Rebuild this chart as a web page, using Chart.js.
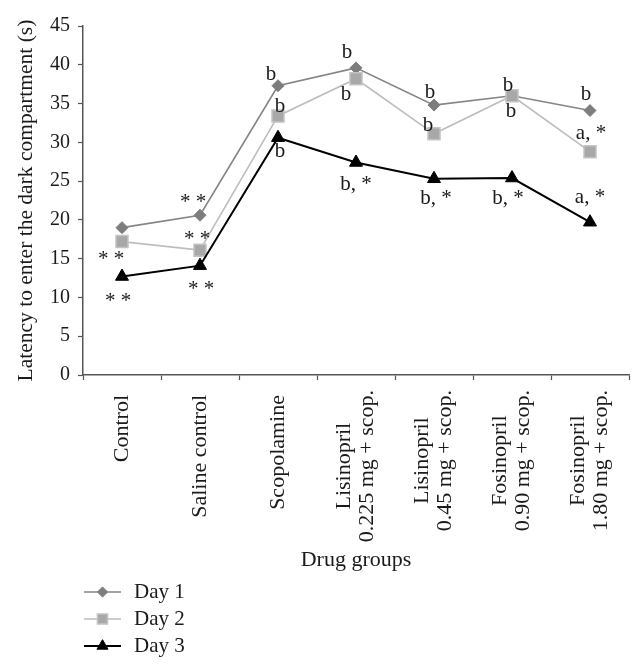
<!DOCTYPE html>
<html>
<head>
<meta charset="utf-8">
<script src="https://cdn.jsdelivr.net/npm/chart.js@4.4.1/dist/chart.umd.min.js"></script>
<style>
  html, body { margin: 0; padding: 0; background: #ffffff; }
  canvas { display: block; }
</style>
</head>
<body>
<canvas id="c" width="644" height="671"></canvas>
<script>
// ---- data ----
const categories = [
  ['Control'],
  ['Saline control'],
  ['Scopolamine'],
  ['Lisinopril', '0.225 mg + scop.'],
  ['Lisinopril', '0.45 mg + scop.'],
  ['Fosinopril', '0.90 mg + scop.'],
  ['Fosinopril', '1.80 mg + scop.']
];
const seriesNames = ['Day 1', 'Day 2', 'Day 3'];
const day1 = [19.0, 20.6, 37.3, 39.6, 34.8, 36.0, 34.1];
const day2 = [17.2, 16.1, 33.4, 38.2, 31.1, 36.0, 28.8];
const day3 = [12.7, 14.1, 30.6, 27.4, 25.3, 25.4, 19.7];
const yMin = 0, yMax = 45, yStep = 5;
const day1Marks = ['', '* *', 'b', 'b', 'b', 'b', 'b'];
const day2Marks = ['* *', '* *', 'b', 'b', 'b', 'b', 'a, *'];
const day3Marks = ['* *', '* *', 'b', 'b, *', 'b, *', 'b, *', 'a, *'];
const xTitle = 'Drug groups';
const yTitle = 'Latency to enter the dark compartment (s)';

// ---- styling ----
const FONT = "'Liberation Serif', 'Times New Roman', serif";
const TEXT = '#1a1a1a';
const AXIS = '#555555';

// annotation placement relative to each point (pixels)
const markOffsets = [
  [null, [-7, -17], [-7, -11], [-9, -15], [-4, -13], [-4, -10], [-4, -16]],
  [[-11, 14], [-3, -15], [2, -9], [-10, 16], [-6, -8], [-1, 16], [1, -18]],
  [[-4, 21], [1, 20], [2, 14], [0, 22], [2, 20], [-4, 20], [0, -25]]
];
const allMarks = [day1Marks, day2Marks, day3Marks];

const annotationPlugin = {
  id: 'sigMarks',
  afterDatasetsDraw(chart) {
    const ctx = chart.ctx;
    ctx.save();
    ctx.font = '21px ' + FONT;
    ctx.fillStyle = TEXT;
    ctx.textAlign = 'center';
    ctx.textBaseline = 'middle';
    chart.data.datasets.forEach((ds, i) => {
      const meta = chart.getDatasetMeta(i);
      allMarks[i].forEach((txt, j) => {
        if (!txt) return;
        const off = markOffsets[i][j];
        const pt = meta.data[j];
        let dy = off[1];
        if (txt === '* *') dy += 4;
        ctx.fillText(txt, pt.x + off[0], pt.y + dy);
      });
    });
    ctx.restore();
  }
};

const categoryLabelPlugin = {
  id: 'catLabels',
  afterDraw(chart) {
    const ctx = chart.ctx;
    const xs = chart.scales.x;
    const lineH = 23;
    ctx.save();
    ctx.font = '22px ' + FONT;
    ctx.fillStyle = TEXT;
    ctx.textBaseline = 'middle';
    categories.forEach((lines, j) => {
      const cx = xs.getPixelForValue(j);
      const widths = lines.map(l => ctx.measureText(l).width);
      const maxW = Math.max(...widths);
      const n = lines.length;
      const topY = chart.chartArea.bottom + (n > 1 ? 15 : 20);
      lines.forEach((line, k) => {
        const x = cx + (k - (n - 1) / 2) * lineH;
        const centerY = topY + maxW / 2;
        ctx.save();
        ctx.translate(x, centerY);
        ctx.rotate(-Math.PI / 2);
        ctx.textAlign = 'center';
        ctx.fillText(line, 0, 0);
        ctx.restore();
      });
    });
    ctx.restore();
  }
};

const legendPlugin = {
  id: 'vLegend',
  afterDraw(chart) {
    const ctx = chart.ctx;
    const x0 = 84, x1 = 121, tx = 134;
    const ys = [592, 619, 646];
    ctx.save();
    chart.data.datasets.forEach((ds, i) => {
      const y = ys[i];
      ctx.strokeStyle = ds.borderColor;
      ctx.lineWidth = ds.borderWidth;
      ctx.beginPath();
      ctx.moveTo(x0, y);
      ctx.lineTo(x1, y);
      ctx.stroke();
      ctx.fillStyle = ds.pointBackgroundColor;
      ctx.strokeStyle = ds.pointBorderColor;
      ctx.lineWidth = ds.pointBorderWidth;
      Chart.helpers.drawPoint(ctx, {
        pointStyle: ds.pointStyle,
        radius: ds.pointRadius * 0.85,
        rotation: 0,
        borderWidth: ds.pointBorderWidth
      }, (x0 + x1) / 2, y);
      ctx.fillStyle = TEXT;
      ctx.font = '21px ' + FONT;
      ctx.textAlign = 'left';
      ctx.textBaseline = 'middle';
      ctx.fillText(seriesNames[i], tx, y);
    });
    ctx.restore();
  }
};

new Chart(document.getElementById('c'), {
  type: 'line',
  data: {
    labels: categories,
    datasets: [
      {
        label: seriesNames[0], data: day1, order: 3,
        borderColor: '#858585', borderWidth: 1.6,
        pointStyle: 'rectRot', pointRadius: 6,
        pointBackgroundColor: '#7d7d7d', pointBorderColor: '#7d7d7d', pointBorderWidth: 1
      },
      {
        label: seriesNames[1], data: day2, order: 2,
        borderColor: '#bdbdbd', borderWidth: 1.6,
        pointStyle: 'rect', pointRadius: 8.5,
        pointBackgroundColor: '#a8a8a8', pointBorderColor: '#c4c4c4', pointBorderWidth: 1.5
      },
      {
        label: seriesNames[2], data: day3, order: 1,
        borderColor: '#000000', borderWidth: 2,
        pointStyle: 'triangle', pointRadius: 7.5,
        pointBackgroundColor: '#000000', pointBorderColor: '#000000', pointBorderWidth: 1
      }
    ]
  },
  options: {
    responsive: false,
    animation: false,
    devicePixelRatio: 1,
    layout: { padding: { left: 10, top: 26, right: 15, bottom: 96 } },
    plugins: {
      legend: { display: false },
      tooltip: { enabled: false },
      title: { display: false }
    },
    elements: { line: { tension: 0 } },
    scales: {
      x: {
        type: 'category',
        offset: true,
        grid: {
          offset: true, drawOnChartArea: false, drawTicks: true,
          tickLength: 5, tickColor: AXIS, tickWidth: 1.2
        },
        border: { display: true, color: AXIS, width: 1.5 },
        ticks: { display: false },
        title: {
          display: true, text: xTitle, color: TEXT,
          font: { family: FONT, size: 22 }, padding: { top: 0, bottom: 2 }
        },
        afterFit(scale) { scale.height = 200; }
      },
      y: {
        min: yMin, max: yMax,
        ticks: {
          stepSize: yStep, color: TEXT, padding: 8,
          font: { family: FONT, size: 20 }
        },
        grid: {
          drawOnChartArea: false, drawTicks: true,
          tickLength: 5, tickColor: AXIS, tickWidth: 1.2
        },
        border: { display: true, color: AXIS, width: 1.5 },
        title: {
          display: true, text: yTitle, color: TEXT,
          font: { family: FONT, size: 21.5 }, padding: { top: 3, bottom: 0 }
        },
        afterFit(scale) { scale.width = 73; }
      }
    }
  },
  plugins: [annotationPlugin, categoryLabelPlugin, legendPlugin]
});
</script>
</body>
</html>
